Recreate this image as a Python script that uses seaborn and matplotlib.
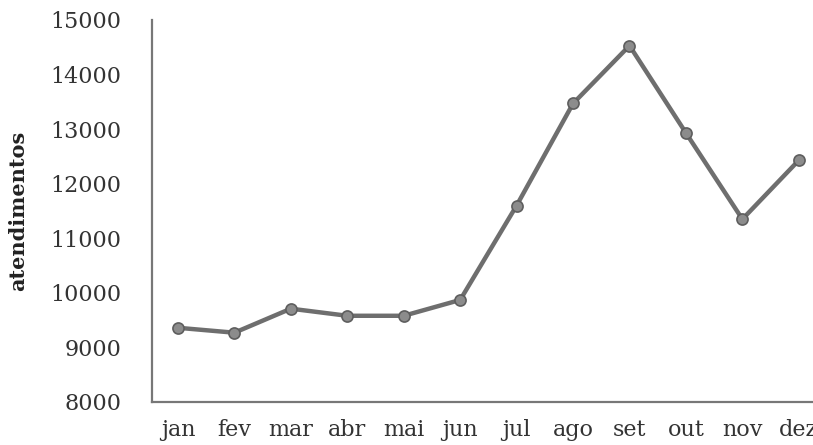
import matplotlib
matplotlib.use('Agg')
import pandas as pd
import matplotlib.pyplot as plt
import seaborn as sns

# Dados mensais de atendimentos
meses = ['jan', 'fev', 'mar', 'abr', 'mai', 'jun', 'jul', 'ago', 'set', 'out', 'nov', 'dez']
atendimentos = [9360, 9270, 9710, 9580, 9580, 9870, 11600, 13470, 14530, 12930, 11350, 12430]
yticks = [8000, 9000, 10000, 11000, 12000, 13000, 14000, 15000]

df = pd.DataFrame({'mes': meses, 'atendimentos': atendimentos})
df['pos'] = range(len(meses))

sns.set_style('white')
plt.rcParams['font.family'] = ['DejaVu Serif']

fig = plt.figure(figsize=(8.13, 4.45), dpi=100)
ax = fig.add_axes([152 / 813, 1 - 402 / 445, 1 - 152 / 813 + 0.002, (402 - 20) / 445])

sns.lineplot(data=df, x='pos', y='atendimentos', color='#6e6e6e', linewidth=3.2,
             marker='o', markersize=8, markerfacecolor='#8c8c8c',
             markeredgecolor='#5e5e5e', markeredgewidth=1.2, ax=ax)

ax.set_xlim(-0.46, 11.28)
ax.set_ylim(8000, 15000)
ax.set_yticks(yticks)
ax.set_yticklabels([str(v) for v in yticks], fontsize=16, color='#333333')
ax.set_xticks(df['pos'])
ax.set_xticklabels(meses, fontsize=16, color='#333333')
ax.tick_params(axis='both', length=0)
ax.tick_params(axis='y', pad=22)
ax.tick_params(axis='x', pad=12)
ax.set_xlabel('')
ax.set_ylabel('atendimentos', fontsize=15, fontweight='bold', color='#222222', labelpad=16)

for lado in ['top', 'right']:
    ax.spines[lado].set_visible(False)
for lado in ['left', 'bottom']:
    ax.spines[lado].set_color('#777777')
    ax.spines[lado].set_linewidth(1.6)

plt.savefig('out.png', dpi=100)
plt.close()
